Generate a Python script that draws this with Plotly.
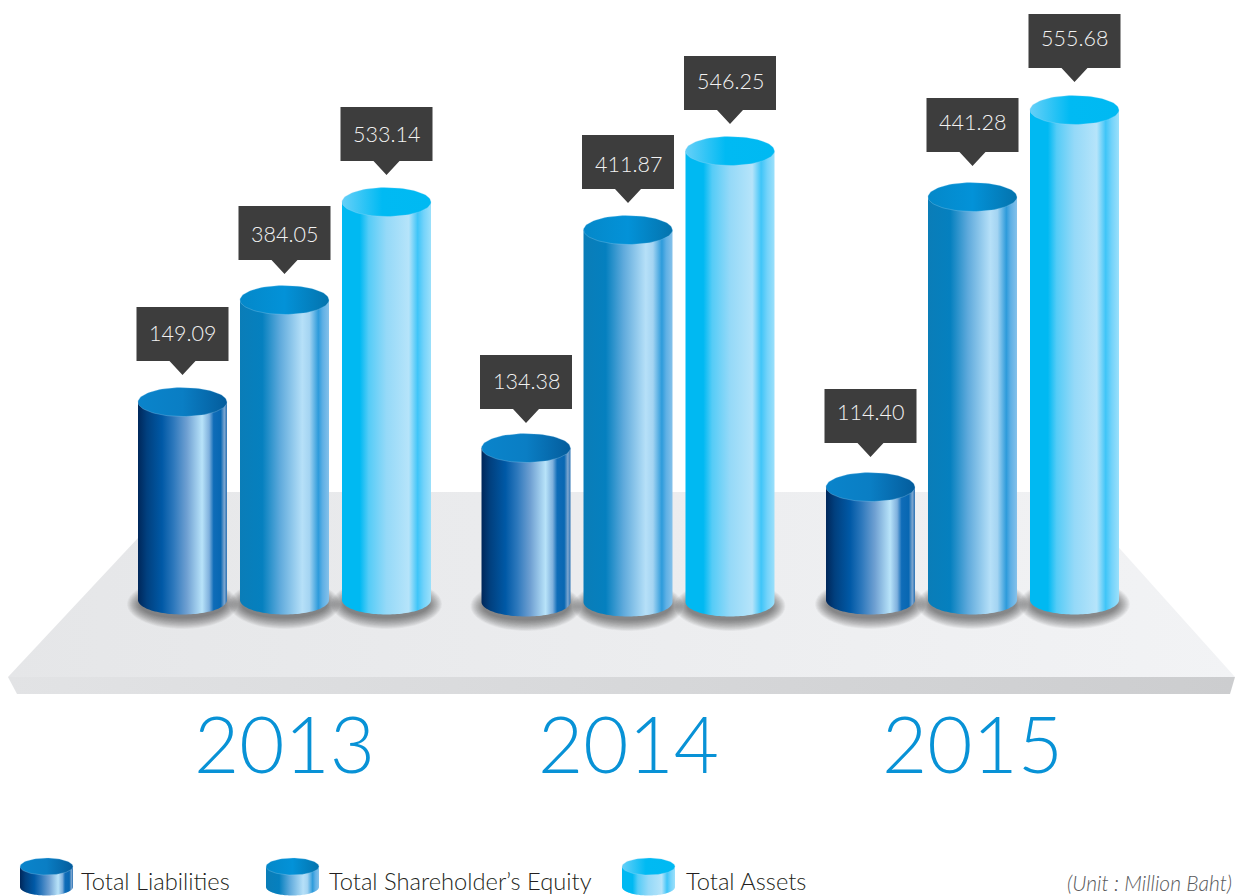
import numpy as np
import plotly.graph_objects as go

# ---- values printed on the chart ----
years = ["2013", "2014", "2015"]
liabilities = ["149.09", "134.38", "114.40"]
equity = ["384.05", "411.87", "441.28"]
assets = ["533.14", "546.25", "555.68"]
series_names = ["Total Liabilities", "Total Shareholder\u2019s Equity", "Total Assets"]
unit_note = "(Unit : Million Baht)"

# ---- heights as drawn in the picture (the artwork is not to scale) ----
liabilities_drawn = [198, 154, 113]
equity_drawn = [300, 372, 403]
assets_drawn = [398, 451, 490]
year_floor = [0, -2, 0]
year_centre = [284.5, 628, 972.5]
# small hand placement of each callout and its label, by series then year
callout_shift = [[0, -2, 3], [-1, 0, 4], [0, 0, 1]]
label_shift = [[1, 1, 4], [-1, -2, 3], [0, 2, 3]]

# ---- styles ----
FONT = "Lato"
CYL_W, CYL_RY, CYL_GAP = 89, 14.5, 102
side_scales = [
    [[0, "#00275a"], [.10, "#01407f"], [.27, "#0059a6"], [.40, "#2d78bc"], [.55, "#6fa0d2"],
     [.72, "#b8e3f9"], [.80, "#7fb0dd"], [.85, "#0f6cb8"], [.93, "#0867b2"], [.97, "#7da6d0"], [1, "#2a72b4"]],
    [[0, "#0a7db8"], [.25, "#0580bf"], [.45, "#5faadc"], [.70, "#b6e0f8"], [.78, "#a4d4f2"],
     [.88, "#2d9bdb"], [.93, "#5fb0e5"], [1, "#85c1ea"]],
    [[0, "#00b9f2"], [.20, "#00b9f2"], [.30, "#55ccf7"], [.50, "#95d9f8"], [.75, "#b6e4fa"],
     [.85, "#3fc5f8"], [.92, "#74d3fa"], [1, "#9be0fb"]],
]
top_scales = [
    [[0, "#0a84cb"], [.5, "#0a7ec4"], [1, "#045c9c"]],
    [[0, "#0488c9"], [.5, "#0392d8"], [1, "#0473ad"]],
    [[0, "#66d0f8"], [.45, "#00baf3"], [1, "#00b9f2"]],
]

fig = go.Figure()
shapes = []


def ellipse(cx, cy, rx, ry, a=0.0, b=2 * np.pi, n=90):
    t = np.linspace(a, b, n)
    return cx + rx * np.cos(t), cy + ry * np.sin(t)


def add_cylinder(cx, floor, h, idx, w=CYL_W, ry=CYL_RY):
    rx = w / 2
    low_x, low_y = ellipse(cx, floor, rx, ry, np.pi, 2 * np.pi, 60)
    side_x = np.r_[low_x, cx + rx, cx - rx, low_x[0]]
    side_y = np.r_[low_y, floor + h, floor + h, low_y[0]]
    fig.add_trace(go.Scatter(
        x=side_x, y=side_y, mode="none", fill="toself", hoverinfo="skip", showlegend=False,
        fillgradient=dict(type="horizontal", colorscale=side_scales[idx], start=cx - rx, stop=cx + rx)))
    top_x, top_y = ellipse(cx, floor + h, rx, ry)
    fig.add_trace(go.Scatter(
        x=top_x, y=top_y, mode="lines", line=dict(color="rgba(175,222,248,0.45)", width=0.6),
        fill="toself", hoverinfo="skip", showlegend=False,
        fillgradient=dict(type="horizontal", colorscale=top_scales[idx], start=cx - rx, stop=cx + rx)))


def add_shadow(cx, floor):
    layers = 20
    for k in range(layers):
        f = k / (layers - 1)
        rx = CYL_W / 2 + 11 * (1 - f) - 2 * f
        ry = 25 - 12 * f
        cy = floor - 4 - 1 * f
        sx, sy = ellipse(cx, cy, rx, ry, n=50)
        fig.add_trace(go.Scatter(x=sx, y=sy, mode="none", fill="toself", fillcolor="rgba(30,30,30,0.03)",
                                 hoverinfo="skip", showlegend=False))


def add_callout(cx, top, label, nudge):
    hw = 46
    path = (f"M {cx-hw},{top+95} L {cx+hw},{top+95} L {cx+hw},{top+41} L {cx+13},{top+41} "
            f"L {cx},{top+27} L {cx-13},{top+41} L {cx-hw},{top+41} Z")
    shapes.append(dict(type="path", xref="x", yref="y", path=path, fillcolor="#3d3d3d", line_width=0, layer="above"))
    fig.add_annotation(x=cx, y=top + 68 + nudge, text=label, showarrow=False, xanchor="center", yanchor="middle",
                       font=dict(family=FONT, size=21.5, color="#f2f2f2", weight=300))


# platform
fig.add_trace(go.Scatter(
    x=[8, 181, 1069, 1235, 8], y=[600 - 677, 600 - 492, 600 - 492, 600 - 677, 600 - 677],
    mode="none", fill="toself", hoverinfo="skip", showlegend=False,
    fillgradient=dict(type="horizontal", colorscale=[[0, "#e5e6e8"], [1, "#f2f3f5"]], start=8, stop=1235)))
fig.add_trace(go.Scatter(
    x=[8, 1235, 1230, 17, 8], y=[600 - 677, 600 - 677, 600 - 694, 600 - 694, 600 - 677],
    mode="none", fill="toself", hoverinfo="skip", showlegend=False,
    fillgradient=dict(type="horizontal", colorscale=[[0, "#e2e3e5"], [1, "#cccdcf"]], start=8, stop=1235)))

drawn = [liabilities_drawn, equity_drawn, assets_drawn]
values = [liabilities, equity, assets]
for y_i, yc in enumerate(year_centre):
    for s in range(3):
        add_shadow(yc + (s - 1) * CYL_GAP, year_floor[y_i])
for y_i, yc in enumerate(year_centre):
    for s in range(3):
        cx = yc + (s - 1) * CYL_GAP
        floor = year_floor[y_i]
        h = drawn[s][y_i]
        add_cylinder(cx, floor, h, s)
        add_callout(cx, floor + h + callout_shift[s][y_i], values[s][y_i],
                    label_shift[s][y_i] - callout_shift[s][y_i] + callout_shift[s][y_i])
    fig.add_annotation(x=yc, y=600 - 743, text=years[y_i], showarrow=False, xanchor="center", yanchor="middle",
                       font=dict(family=FONT, size=78, color="#0892d6", weight=300))

# legend
legend_x = [46.5, 292.5, 648.5]
legend_text_x = [80, 328, 685]
for i in range(3):
    add_cylinder(legend_x[i], 600 - 887, 20.5, i, w=53, ry=8.5)
    fig.add_annotation(x=legend_text_x[i], y=600 - 895.5, text=series_names[i], showarrow=False,
                       xanchor="left", yanchor="bottom", borderpad=0,
                       font=dict(family=FONT, size=23.7, color="#231f20", weight=300))
fig.add_annotation(x=1233, y=600 - 895.5, text=f"<i>{unit_note}</i>", showarrow=False, xanchor="right",
                   yanchor="bottom", borderpad=0, font=dict(family=FONT, size=21, color="#58595b", weight=300))

fig.update_layout(
    width=1235, height=896, margin=dict(l=0, r=0, t=0, b=0), autosize=False,
    paper_bgcolor="white", plot_bgcolor="white", showlegend=False, shapes=shapes,
    xaxis=dict(range=[0, 1235], visible=False, fixedrange=True),
    yaxis=dict(range=[-296, 600], visible=False, fixedrange=True),
)
fig.write_html("out.html", config=dict(displayModeBar=False),
               post_script="document.body.style.margin='0';document.body.style.overflow='hidden';")
